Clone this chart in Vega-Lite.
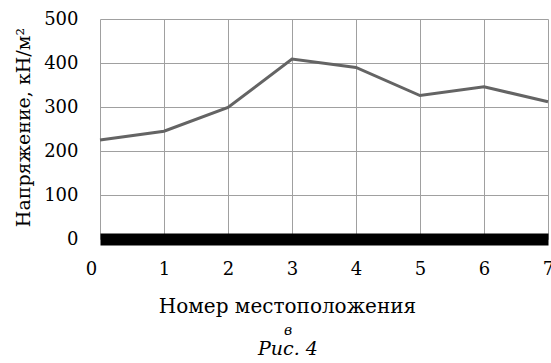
{
  "$schema": "https://vega.github.io/schema/vega-lite/v6.json",
  "autosize": {"type": "none"},
  "width": 448,
  "height": 220,
  "padding": {"left": 100, "top": 19, "right": 3, "bottom": 124},
  "background": "white",
  "config": {
    "view": {"stroke": null},
    "font": "DejaVu Serif"
  },
  "title": {
    "text": "в",
    "subtitle": "Рис. 4",
    "orient": "bottom",
    "anchor": "middle",
    "frame": "group",
    "dx": -36,
    "offset": 8,
    "font": "DejaVu Serif",
    "fontSize": 14,
    "fontStyle": "italic",
    "fontWeight": "normal",
    "color": "black",
    "subtitleFont": "DejaVu Serif",
    "subtitleFontSize": 19,
    "subtitleFontStyle": "italic",
    "subtitleColor": "black",
    "subtitlePadding": 2
  },
  "data": {
    "values": [
      {"position": 0, "stress": 225},
      {"position": 1, "stress": 245},
      {"position": 2, "stress": 299},
      {"position": 3, "stress": 409},
      {"position": 4, "stress": 390},
      {"position": 5, "stress": 326},
      {"position": 6, "stress": 346},
      {"position": 7, "stress": 312}
    ]
  },
  "mark": {"type": "line", "color": "#646464", "strokeWidth": 3, "strokeJoin": "miter"},
  "encoding": {
    "x": {
      "field": "position",
      "type": "quantitative",
      "scale": {"domain": [0, 7], "nice": false, "zero": false},
      "axis": {
        "title": "Номер местоположения",
        "values": [0, 1, 2, 3, 4, 5, 6, 7],
        "grid": true,
        "gridColor": "#a0a0a0",
        "gridWidth": 1,
        "ticks": false,
        "tickSize": 0,
        "domain": true,
        "domainColor": "black",
        "domainWidth": 12,
        "labelFont": "DejaVu Serif",
        "labelFontSize": 18,
        "labelColor": "black",
        "labelBaseline": "top",
        "labelPadding": 21,
        "labelFlush": false,
        "labelOverlap": false,
        "labelOffset": {"condition": {"test": "datum.value === 0", "value": -9}, "value": 0},
        "titleFont": "DejaVu Serif",
        "titleFontSize": 20,
        "titleFontWeight": "normal",
        "titleColor": "black",
        "titleX": 187,
        "titleY": 73,
        "titleAlign": "center",
        "titleBaseline": "alphabetic"
      }
    },
    "y": {
      "field": "stress",
      "type": "quantitative",
      "scale": {"domain": [0, 500], "nice": false},
      "axis": {
        "title": "Напряжение, кН/м²",
        "values": [0, 100, 200, 300, 400, 500],
        "grid": true,
        "gridColor": "#a0a0a0",
        "gridWidth": 1,
        "ticks": false,
        "tickSize": 0,
        "domain": false,
        "labelFont": "DejaVu Serif",
        "labelFontSize": 18,
        "labelColor": "black",
        "labelPadding": 22,
        "labelBaseline": "middle",
        "titleFont": "DejaVu Serif",
        "titleFontSize": 19,
        "titleFontWeight": "normal",
        "titleColor": "black",
        "titleAngle": -90,
        "titleX": -77,
        "titleY": 108,
        "titleAlign": "center",
        "titleBaseline": "middle"
      }
    }
  }
}
